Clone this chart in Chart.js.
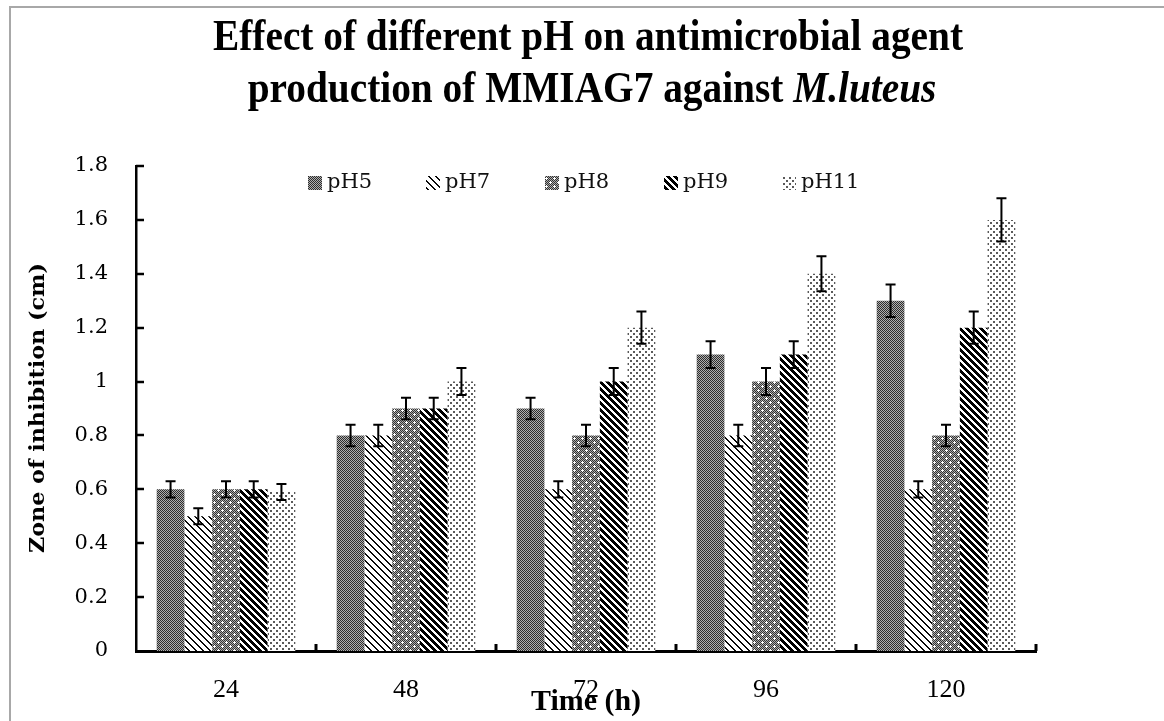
<!DOCTYPE html>
<html><head><meta charset="utf-8">
<script src="https://cdn.jsdelivr.net/npm/chart.js@4.4.1/dist/chart.umd.min.js"></script>
<style>html,body{margin:0;padding:0;background:#fff;overflow:hidden}#wrap{width:1164px;height:721px;position:relative}</style>
</head><body><div id="wrap"><canvas id="c" width="1164" height="721"></canvas></div>
<script>
const categories = ['24', '48', '72', '96', '120'];
const seriesNames = ['pH5', 'pH7', 'pH8', 'pH9', 'pH11'];
const pH5 = [0.6, 0.8, 0.9, 1.1, 1.3];
const pH7 = [0.5, 0.8, 0.6, 0.8, 0.6];
const pH8 = [0.6, 0.9, 0.8, 1.0, 0.8];
const pH9 = [0.6, 0.9, 1.0, 1.1, 1.2];
const pH11 = [0.59, 1.0, 1.2, 1.4, 1.6];
const pH5Err = [0.03, 0.04, 0.04, 0.05, 0.06];
const pH7Err = [0.03, 0.04, 0.03, 0.04, 0.03];
const pH8Err = [0.03, 0.04, 0.04, 0.05, 0.04];
const pH9Err = [0.03, 0.04, 0.05, 0.05, 0.06];
const pH11Err = [0.03, 0.05, 0.06, 0.065, 0.08];
const yTickValues = [0, 0.2, 0.4, 0.6, 0.8, 1.0, 1.2, 1.4, 1.6, 1.8];
const yTickLabels = ['0', '0.2', '0.4', '0.6', '0.8', '1', '1.2', '1.4', '1.6', '1.8'];
const titleLine1 = 'Effect of different pH on antimicrobial agent';
const titleLine2a = 'production of MMIAG7 against ';
const titleLine2b = 'M.luteus';
const xTitle = 'Time (h)';
const yTitle = 'Zone of inhibition (cm)';

const canvas = document.getElementById('c');
const mainCtx = canvas.getContext('2d');

function makePattern(size, fn) {
  const c = document.createElement('canvas');
  c.width = size; c.height = size;
  const x = c.getContext('2d');
  const img = x.createImageData(size, size);
  for (let j = 0; j < size; j++) for (let i = 0; i < size; i++) {
    const v = fn(i, j); const k = (j * size + i) * 4;
    img.data[k] = img.data[k + 1] = img.data[k + 2] = v; img.data[k + 3] = 255;
  }
  x.putImageData(img, 0, 0);
  return mainCtx.createPattern(c, 'repeat');
}
const patterns = [
  makePattern(2, (i, j) => ((i + j) % 2 === 0 ? 45 : 175)),
  makePattern(7, (i, j) => (((i - j + 14) % 7) < 2 ? 10 : 255)),
  makePattern(8, (i, j) => {
    const a = (i === 2 && j >= 1 && j <= 3) || (j === 2 && i >= 1 && i <= 3);
    const b = (i === 6 && j >= 5 && j <= 7) || (j === 6 && i >= 5 && i <= 7);
    if (a || b) return 255;
    return (i + j) % 2 === 0 ? 50 : 170;
  }),
  makePattern(7, (i, j) => (((i - j + 14) % 7) < 4 ? 0 : 255)),
  makePattern(6, (i, j) => (((i < 2 && j < 2) || (i >= 3 && i < 5 && j >= 3 && j < 5)) ? 90 : 255)),
];
const seriesData = [pH5, pH7, pH8, pH9, pH11];
const seriesErr = [pH5Err, pH7Err, pH8Err, pH9Err, pH11Err];

function drawScaledText(ctx, text, cx, cy, font, targetW, rot) {
  ctx.save();
  ctx.font = font;
  const w = ctx.measureText(text).width;
  ctx.translate(cx, cy);
  if (rot) ctx.rotate(rot);
  ctx.scale(targetW / w, 1);
  ctx.textAlign = 'center'; ctx.textBaseline = 'middle';
  ctx.fillText(text, 0, 0);
  ctx.restore();
}

const TF = 'bold 45px "Liberation Serif"';
const TFI = 'bold italic 45px "Liberation Serif"';

const decorPlugin = {
  id: 'decor',
  beforeDraw(chart) {
    const ctx = chart.ctx;
    ctx.save();
    ctx.fillStyle = '#fff'; ctx.fillRect(0, 0, chart.width, chart.height);
    ctx.strokeStyle = '#a8a8a8'; ctx.lineWidth = 2;
    ctx.beginPath(); ctx.moveTo(10, 721); ctx.lineTo(10, 7); ctx.lineTo(1164, 7); ctx.stroke();
    ctx.restore();
  },
  afterDatasetsDraw(chart) {
    const ctx = chart.ctx; const ys = chart.scales.y;
    ctx.save(); ctx.strokeStyle = '#000'; ctx.lineWidth = 2;
    chart.data.datasets.forEach((ds, di) => {
      const meta = chart.getDatasetMeta(di);
      meta.data.forEach((el, i) => {
        const v = ds.data[i], e = seriesErr[di][i];
        const yt = ys.getPixelForValue(v + e), yb = ys.getPixelForValue(v - e);
        const x = el.x;
        ctx.beginPath();
        ctx.moveTo(x, yt); ctx.lineTo(x, yb);
        ctx.moveTo(x - 5, yt); ctx.lineTo(x + 5, yt);
        ctx.moveTo(x - 5, yb); ctx.lineTo(x + 5, yb);
        ctx.stroke();
      });
    });
    ctx.restore();
  },
  afterDraw(chart) {
    const ctx = chart.ctx; const ca = chart.chartArea;
    const xs = chart.scales.x, ys = chart.scales.y;
    ctx.save();
    ctx.strokeStyle = '#000';
    ctx.lineWidth = 2.5;
    yTickValues.forEach(v => {
      const y = Math.round(ys.getPixelForValue(v));
      if (v === 0) return;
      ctx.beginPath(); ctx.moveTo(ca.left, y); ctx.lineTo(ca.left + 8, y); ctx.stroke();
    });
    ctx.lineWidth = 3;
    const half = (xs.getPixelForValue(1) - xs.getPixelForValue(0)) / 2;
    categories.forEach((c, i) => {
      const x = xs.getPixelForValue(i) + half;
      ctx.beginPath(); ctx.moveTo(x, ca.bottom); ctx.lineTo(x, ca.bottom - 7); ctx.stroke();
    });
    ctx.fillStyle = '#000';
    drawScaledText(ctx, titleLine1, 588, 38, TF, 750, 0);
    ctx.font = TF;
    const wa = ctx.measureText(titleLine2a).width;
    const w1 = ctx.measureText(titleLine1).width;
    ctx.font = TFI;
    const wb = ctx.measureText(titleLine2b).width;
    const sx = 750 / w1;
    const total = (wa + wb) * sx;
    const left = 592 - total / 2;
    ctx.save();
    ctx.translate(left, 90); ctx.scale(sx, 1);
    ctx.textAlign = 'left'; ctx.textBaseline = 'middle';
    ctx.font = TF; ctx.fillText(titleLine2a, 0, 0);
    ctx.font = TFI; ctx.fillText(titleLine2b, wa, 0);
    ctx.restore();
    drawScaledText(ctx, xTitle, 586, 703, 'bold 29px "Liberation Serif"', 110, 0);
    drawScaledText(ctx, yTitle, 39, 408, 'bold 21px "DejaVu Serif"', 290, -Math.PI / 2);
    ctx.font = '21px "DejaVu Serif"';
    ctx.textAlign = 'left'; ctx.textBaseline = 'middle';
    const legX = [308, 426, 545, 664, 782];
    seriesNames.forEach((n, i) => {
      const bx = legX[i];
      ctx.fillStyle = patterns[i];
      ctx.fillRect(bx, 176, 14, 14);
      ctx.fillStyle = '#111';
      ctx.fillText(n, bx + 19, 183);
    });
    ctx.restore();
  }
};

new Chart(canvas, {
  type: 'bar',
  data: {
    labels: categories,
    datasets: seriesNames.map((n, i) => ({
      label: n, data: seriesData[i], backgroundColor: patterns[i], borderWidth: 0,
      categoryPercentage: 0.77, barPercentage: 1.0
    }))
  },
  options: {
    responsive: false, animation: false, devicePixelRatio: 1,
    layout: { padding: { top: 166, right: 128, bottom: 0, left: 0 } },
    plugins: { legend: { display: false }, title: { display: false }, tooltip: { enabled: false } },
    scales: {
      x: {
        grid: { display: false, drawTicks: false },
        border: { display: true, color: '#000', width: 3 },
        ticks: { color: '#000', font: { family: 'Liberation Serif', size: 26 }, padding: 24 },
        afterFit(s) { s.height = 70; }
      },
      y: {
        min: 0, max: 1.8,
        grid: { display: false, drawTicks: false },
        border: { display: true, color: '#000', width: 2.5 },
        afterBuildTicks(s) { s.ticks = yTickValues.map(v => ({ value: v })); },
        ticks: { color: '#000', font: { family: 'DejaVu Serif', size: 21 }, padding: 28,
          callback: (v, i) => yTickLabels[i] },
        afterFit(s) { s.width = 136; }
      }
    }
  },
  plugins: [decorPlugin]
});
</script></body></html>
